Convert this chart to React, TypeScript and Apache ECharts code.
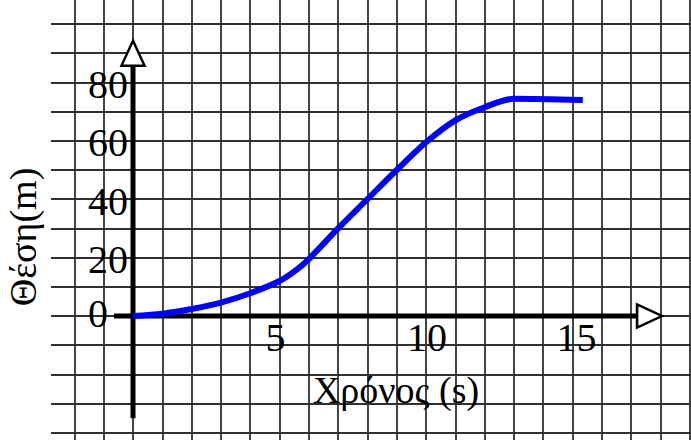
import React, { useEffect, useRef } from "react";
import * as echarts from "echarts";

// Position of the body over time
const timeValues = [0, 1, 2, 3, 4, 5, 5.6, 6, 7, 8, 9, 10, 11, 12, 13, 15.35];
const positionValues = [0, 0.8, 2.4, 4.6, 7.8, 12, 16, 19.5, 30, 40, 50, 59.5, 67, 71.5, 74.4, 74];

// Tick labels shown
const xTickLabels = [5, 10, 15];
const yTickLabels = [0, 20, 40, 60, 80];

// Drawn axis extents (in data units) and arrow-head positions
const xAxisExtent = [-0.65, 17.25];
const yAxisExtent = [-35, 86.5];
const xArrow = [17.63, 0];
const yArrow = [0, 90];

const SERIF = '"Liberation Serif", "Times New Roman", serif';

export default function App() {
  const ref = useRef<HTMLDivElement>(null);

  useEffect(() => {
    if (!ref.current) return;
    const chart = echarts.init(ref.current, null, { renderer: "svg" });
    const curve = timeValues.map((t, i) => [t, positionValues[i]]);
    const gridLine = { show: true, lineStyle: { color: "#303030", width: 1.8 } };
    const tickLabelStyle = {
      show: true,
      fontFamily: SERIF,
      fontSize: 40,
      color: "#000",
      opacity: 1,
      textBorderWidth: 0,
    };
    chart.setOption({
      animation: false,
      backgroundColor: "#ffffff",
      grid: {
        left: 45.1,
        right: 11.7,
        top: 4.8,
        bottom: 8,
        containLabel: false,
        outerBoundsMode: "none",
      },
      xAxis: {
        type: "value",
        min: -3,
        max: 21,
        interval: 1,
        axisLine: { show: false },
        axisTick: { show: false },
        axisLabel: { show: false },
        splitLine: gridLine,
      },
      yAxis: {
        type: "value",
        min: -50,
        max: 110,
        interval: 10,
        axisLine: { show: false },
        axisTick: { show: false },
        axisLabel: { show: false },
        splitLine: gridLine,
      },
      graphic: [
        {
          type: "rect",
          z: 100,
          shape: { x: 0, y: 0, width: 51, height: 480 },
          style: { fill: "#ffffff" },
        },
        {
          type: "text",
          z: 101,
          x: 23,
          y: 247,
          rotation: Math.PI / 2,
          style: {
            text: "Θέση(m)",
            font: `38px ${SERIF}`,
            fill: "#000",
            textAlign: "center",
            textVerticalAlign: "middle",
          },
        },
        {
          type: "text",
          z: 101,
          x: 396,
          y: 400,
          style: {
            text: "Χρόνος (s)",
            font: `38px ${SERIF}`,
            fill: "#000",
            textAlign: "center",
            textVerticalAlign: "middle",
          },
        },
      ],
      series: [
        {
          type: "line",
          data: [
            [xAxisExtent[0], 0],
            [xAxisExtent[1], 0],
          ],
          symbol: "none",
          lineStyle: { color: "#000", width: 5 },
          z: 3,
          silent: true,
        },
        {
          type: "line",
          data: [
            [0, yAxisExtent[0]],
            [0, yAxisExtent[1]],
          ],
          symbol: "none",
          lineStyle: { color: "#000", width: 5 },
          z: 3,
          silent: true,
        },
        {
          type: "scatter",
          symbol: "triangle",
          symbolSize: [23, 25],
          itemStyle: { color: "#ffffff", borderColor: "#000", borderWidth: 2.5, opacity: 1 },
          data: [
            { value: xArrow, symbolRotate: -90 },
            { value: yArrow, symbolRotate: 0 },
          ],
          z: 4,
          silent: true,
        },
        {
          // x tick labels
          type: "scatter",
          symbolSize: 0,
          silent: true,
          z: 6,
          itemStyle: { opacity: 1 },
          data: xTickLabels.map((v) => ({
            value: [v, 0],
            label: { offset: [v === 5 ? -4 : v === 15 ? 4 : 1, 0] },
          })),
          label: {
            ...tickLabelStyle,
            position: "bottom",
            distance: 1,
            formatter: (p: any) => String(p.value[0]),
          },
        },
        {
          // y tick labels
          type: "scatter",
          symbolSize: 0,
          silent: true,
          z: 6,
          itemStyle: { opacity: 1 },
          data: yTickLabels.map((v) => ({
            value: [0, v],
            label: v === 0 ? { distance: 25, offset: [0, -3] } : { offset: [0, 2] },
          })),
          label: {
            ...tickLabelStyle,
            position: "left",
            distance: 5,
            formatter: (p: any) => String(p.value[1]),
          },
        },
        {
          type: "line",
          data: curve,
          smooth: 0.3,
          symbol: "none",
          lineStyle: { color: "#0000ff", width: 6 },
          z: 5,
        },
      ],
    });
    return () => chart.dispose();
  }, []);

  return (
    <div
      style={{
        position: "fixed",
        left: 0,
        top: 0,
        width: 691,
        height: 440,
        overflow: "hidden",
        background: "#fff",
      }}
    >
      <div
        ref={ref}
        style={{ position: "absolute", left: 0, top: -10, width: 760, height: 480 }}
      />
    </div>
  );
}
